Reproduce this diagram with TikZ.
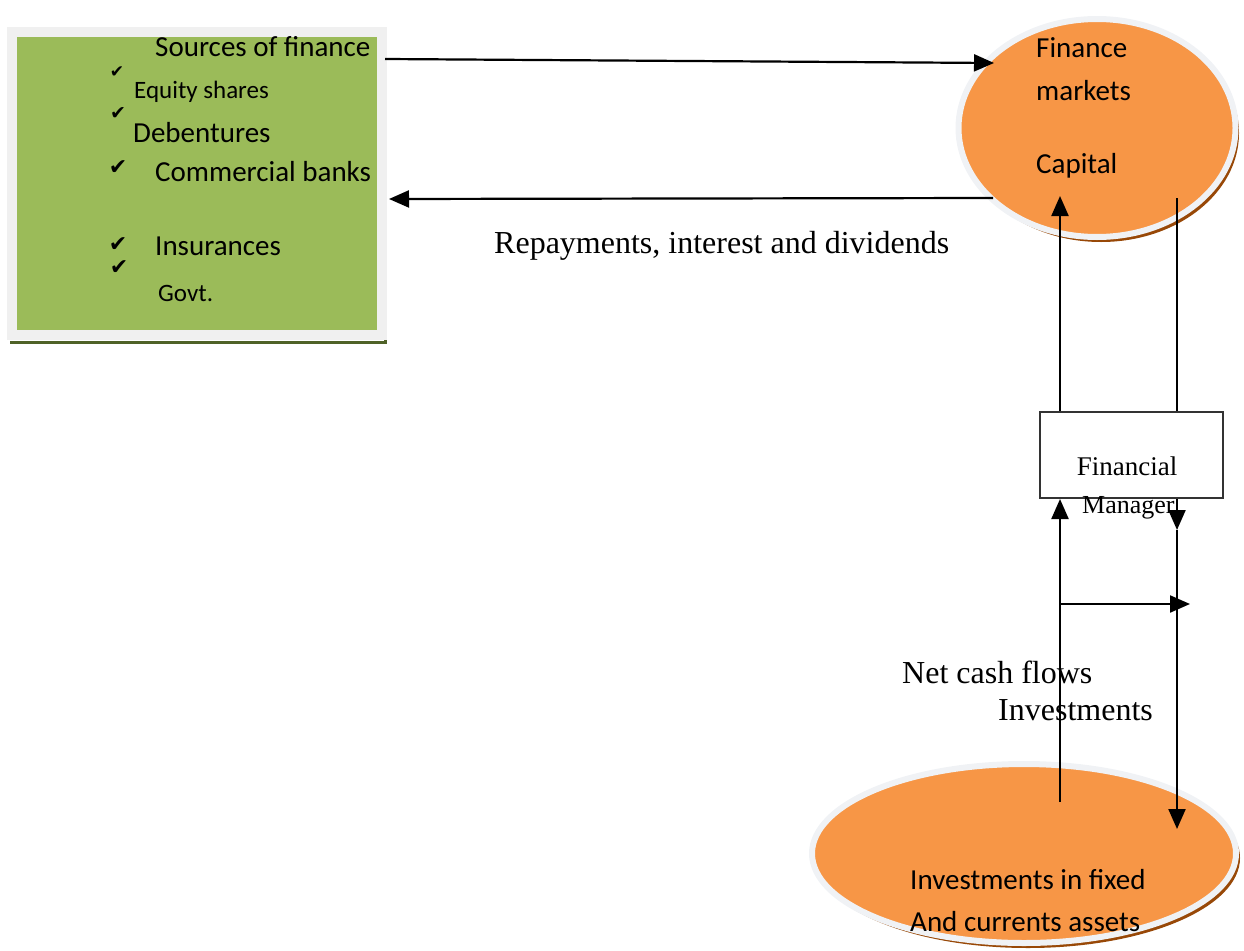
\documentclass[tikz,border=0pt]{standalone}
\usepackage{fontspec}
\usepackage{xcolor}
\usepackage{tikz}
\usetikzlibrary{arrows.meta, shapes.geometric, positioning}
\setmainfont{Liberation Serif}
\newfontfamily\bodyfont{Carlito}
\newfontfamily\tickfont{DejaVu Sans}
\definecolor{OliveGreen}{RGB}{155,187,89}
\definecolor{OliveDark}{RGB}{79,98,40}
\definecolor{SoftOrange}{RGB}{247,150,70}
\definecolor{BurntOrange}{RGB}{152,72,7}
\definecolor{RimGray}{RGB}{240,242,245}

\begin{document}
\begin{tikzpicture}[x=1pt, y=-1pt,
  source/.style={rectangle, draw=black!6, line width=10pt, fill=OliveGreen,
    minimum width=370pt, minimum height=303pt, inner sep=0pt},
  %
  market/.style={ellipse, draw=RimGray, line width=6pt, fill=SoftOrange,
    inner sep=0pt},
  %
  manager/.style={rectangle, draw=black!80, line width=2pt, fill=white,
    minimum width=183pt, minimum height=86pt, inner sep=0pt},
  %
  sans/.style={inner sep=0pt, anchor=west, font=\bodyfont\fontsize{29}{34}\selectfont},
  sanssmall/.style={sans, font=\bodyfont\fontsize{25}{30}\selectfont},
  serif/.style={inner sep=0pt, anchor=west, font=\fontsize{32}{38}\selectfont},
  tick/.style={inner sep=0pt, font=\tickfont\fontsize{#1}{#1}\selectfont},
  %
  flow/.style={-{Triangle[length=20pt, width=17pt]}, line width=2.2pt},
  plain/.style={line width=2.2pt}
  ]

  \useasboundingbox (0,0) rectangle (1244,950);

  \begin{scope}
    % sources of finance
    \draw [OliveDark, line width=3pt] (10,342) -- (385,342) -- (385,37);
    \node [source] (sources) at (197,183.5) {};
    % finance markets
    \fill [BurntOrange] (1101,133) ellipse (138pt and 109pt);
    \node [market, minimum width=277pt, minimum height=218pt] (markets) at (1097,128) {};
    % investments
    \fill [BurntOrange] (1028,858) ellipse (212pt and 90pt);
    \node [market, minimum width=424pt, minimum height=179pt] (assets) at (1024,853.5) {};
    % financial manager
    \node [manager] (manager) at (1131.5,455) {};
  \end{scope}

  \begin{scope}
    \node [sans] (srchead) at (155,47) {Sources of finance};
    \node [tick=17] (t1) at (117,72) {✔};
    \node [sanssmall] (equity) at (134,92) {Equity shares};
    \node [tick=19] (t2) at (118,114) {✔};
    \node [sans] (debent) at (133,133) {Debentures};
    \node [tick=22] (t3) at (118,168) {✔};
    \node [sans] (banks) at (155,172) {Commercial banks};
    \node [tick=22] (t4) at (118,245) {✔};
    \node [sans] (insur) at (155,246) {Insurances};
    \node [tick=22] (t5) at (119,268) {✔};
    \node [sanssmall] (govt) at (158,293) {Govt.};
    %
    \node [sans] (fin) at (1036,48) {Finance};
    \node [sans] (mkts) at (1036,91) {markets};
    \node [sans] (capital) at (1036,166) {Capital};
    %
    \node [sans] (fixed) at (910,880) {Investments in fixed};
    \node [sans] (current) at (910,922) {And currents assets};
  \end{scope}

  \begin{scope}
    \coordinate (srcout) at (385,59);
    \coordinate (mktin) at (994,63);
    \coordinate (mktout) at (993,198);
    \coordinate (srcin) at (389,199);
    \draw [flow] (srcout) -- (mktin);
    \draw [flow] (mktout) -- (srcin);
    %
    \coordinate (capin) at (1060,196);
    \coordinate (capout) at (1177,198);
    \draw [flow] (manager.north -| capin) -- (capin);
    \draw [plain] (capout) -- (manager.north -| capout);
    %
    \coordinate (cashout) at (1060,802);
    \draw [flow] (cashout) -- (manager.south -| cashout);
    \coordinate (split) at (1177,530);
    \coordinate (invin) at (1177,829);
    \draw [flow] (manager.south -| split) -- (split);
    \draw [flow] (split) -- (invin);
    \coordinate (tapl) at (1060,604);
    \coordinate (tapr) at (1190,604);
    \draw [flow] (tapl) -- (tapr);
  \end{scope}

  \begin{scope}
    \node [serif] (repay) at (494,246) {Repayments, interest and dividends};
    \node [serif, anchor=center, font=\fontsize{27}{32}\selectfont] (finl) at (1127,466) {Financial};
    \node [serif, font=\fontsize{26}{31}\selectfont] (mgr) at (1082,508) {Manager};
    \node [serif] (netcash) at (902,672) {Net cash flows};
    \node [serif] (invest) at (998,710) {Investments};
  \end{scope}

\end{tikzpicture}
\end{document}
